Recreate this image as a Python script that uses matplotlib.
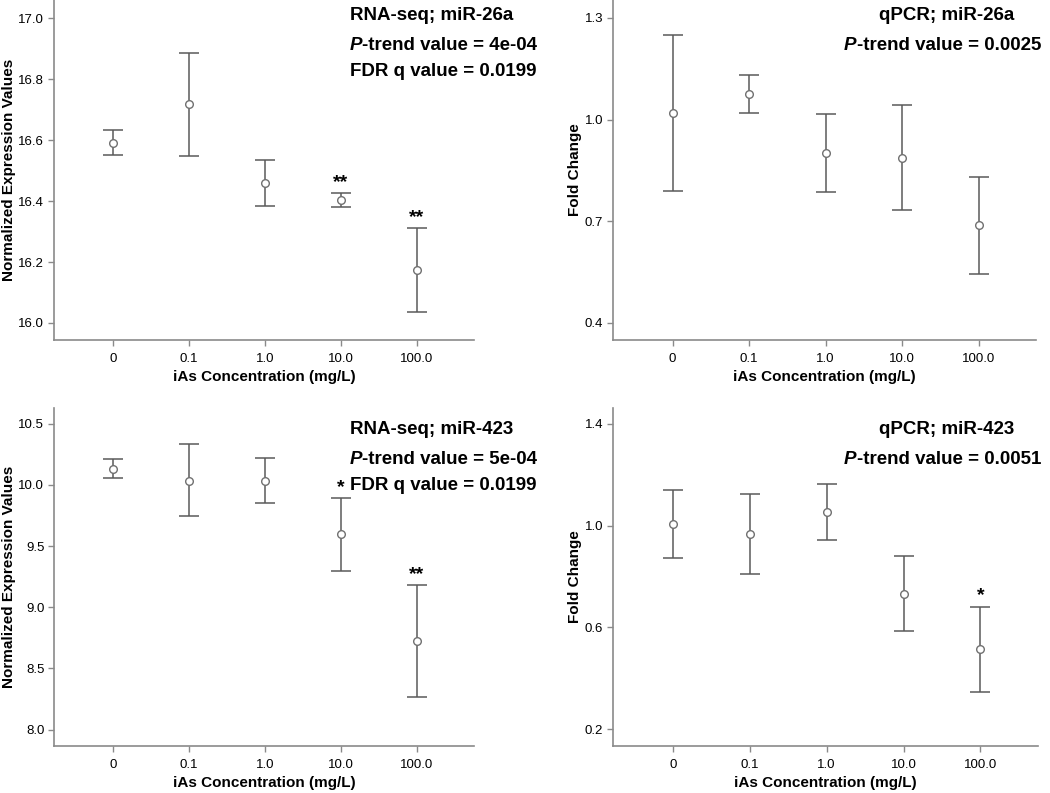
import numpy as np
import matplotlib.pyplot as plt

plt.rcParams['font.family'] = ['Liberation Sans', 'DejaVu Sans']

# x categories (iAs concentration, mg/L)
doses = ['0', '0.1', '1.0', '10.0', '100.0']

# RNA-seq miR-26a
rna26_mean = [16.591, 16.717, 16.459, 16.403, 16.173]
rna26_hi = [16.634, 16.887, 16.534, 16.427, 16.310]
rna26_lo = [16.550, 16.548, 16.385, 16.381, 16.035]
rna26_stars = ['', '', '', '**', '**']

# qPCR miR-26a
q26_mean = [1.020, 1.076, 0.901, 0.887, 0.688]
q26_hi = [1.251, 1.132, 1.015, 1.042, 0.830]
q26_lo = [0.789, 1.020, 0.786, 0.732, 0.545]
q26_stars = ['', '', '', '', '']

# RNA-seq miR-423
rna423_mean = [10.133, 10.035, 10.035, 9.597, 8.726]
rna423_hi = [10.215, 10.333, 10.223, 9.891, 9.182]
rna423_lo = [10.052, 9.744, 9.855, 9.299, 8.267]
rna423_stars = ['', '', '', '*', '**']

# qPCR miR-423
q423_mean = [1.005, 0.965, 1.052, 0.732, 0.514]
q423_hi = [1.139, 1.126, 1.163, 0.880, 0.682]
q423_lo = [0.871, 0.808, 0.943, 0.587, 0.347]
q423_stars = ['', '', '', '', '*']

W, H = 1050, 793
fig = plt.figure(figsize=(W / 100, H / 100), dpi=100)

LINE = '#5a5a5a'
SPINE = '#8a8a8a'
FS = 13.5


def rect(x0, y0, x1, y1):
    # pixel box (top-left origin) -> figure fraction rect
    return [x0 / W, 1 - y1 / H, (x1 - x0) / W, (y1 - y0) / H]


def panel(box, mean, hi, lo, stars, ylim, yticks, ylabel):
    ax = fig.add_axes(rect(*box))
    x = np.arange(len(doses))
    mean = np.array(mean)
    err = [mean - np.array(lo), np.array(hi) - mean]
    ax.errorbar(x, mean, yerr=err, fmt='none', ecolor=LINE, elinewidth=1.1,
                capsize=7, capthick=1.1)
    ax.plot(x, mean, 'o', ms=5.5, mfc='white', mec='#707070', mew=1.0)
    for xi, h, s in zip(x, hi, stars):
        if s:
            ax.annotate(s, xy=(xi, h), xytext=(0, 1.5), textcoords='offset points',
                        ha='center', va='bottom', fontsize=14, fontweight='bold')
    ax.set_xlim(-0.78, 4.75)
    ax.set_ylim(*ylim)
    ax.set_xticks(x)
    ax.set_xticklabels(doses)
    ax.set_yticks(yticks)
    ax.set_yticklabels(['%.1f' % t for t in yticks])
    for side in ['top', 'right']:
        ax.spines[side].set_visible(False)
    for side in ['left', 'bottom']:
        ax.spines[side].set_color(SPINE)
        ax.spines[side].set_linewidth(1.2)
    ax.tick_params(axis='both', direction='out', length=4, width=1,
                   color=SPINE, labelsize=9.5, pad=3)
    ax.tick_params(axis='x', pad=5)
    ax.set_xlabel('iAs Concentration (mg/L)', fontsize=11, fontweight='bold', labelpad=4)
    ax.set_ylabel(ylabel, fontsize=11, fontweight='bold', labelpad=2)
    return ax


def ptrend(ax, xy, value, ha='left'):
    # italic bold "P" followed by the rest of the label
    if ha == 'left':
        t = ax.text(xy[0], xy[1], 'P', transform=fig.transFigure, fontsize=FS,
                    fontweight='bold', fontstyle='italic', ha='left', va='center')
        ax.annotate('-trend value = ' + value, xy=(1, 0), xycoords=t,
                    ha='left', va='bottom', fontsize=FS, fontweight='bold')
    else:
        t = ax.text(xy[0], xy[1], '-trend value = ' + value, transform=fig.transFigure,
                    fontsize=FS, fontweight='bold', ha='right', va='center')
        ax.annotate('P', xy=(0, 0), xycoords=t, ha='right', va='bottom',
                    fontsize=FS, fontweight='bold', fontstyle='italic')


def ftext(ax, x, y, s, ha='left'):
    ax.text(x / W, 1 - y / H, s, transform=fig.transFigure, fontsize=FS,
            fontweight='bold', ha=ha, va='center')


ax1 = panel((54, 0, 474, 340), rna26_mean, rna26_hi, rna26_lo, rna26_stars,
            (15.944, 17.06), [16.0, 16.2, 16.4, 16.6, 16.8, 17.0],
            'Normalized Expression Values')
ftext(ax1, 350, 15, 'RNA-seq; miR-26a')
ptrend(ax1, (350 / W, 1 - 45 / H), '4e-04')
ftext(ax1, 350, 71, 'FDR q value = 0.0199')

ax2 = panel((613, 0, 1036, 340), q26_mean, q26_hi, q26_lo, q26_stars,
            (0.349, 1.353), [0.4, 0.7, 1.0, 1.3], 'Fold Change')
ftext(ax2, 947, 15, 'qPCR; miR-26a', ha='center')
ptrend(ax2, (1041 / W, 1 - 45 / H), '0.0025', ha='right')

ax3 = panel((54, 408, 474, 746), rna423_mean, rna423_hi, rna423_lo, rna423_stars,
            (7.866, 10.628), [8.0, 8.5, 9.0, 9.5, 10.0, 10.5],
            'Normalized Expression Values')
ftext(ax3, 350, 429, 'RNA-seq; miR-423')
ptrend(ax3, (350 / W, 1 - 459 / H), '5e-04')
ftext(ax3, 350, 485, 'FDR q value = 0.0199')

ax4 = panel((613, 408, 1038, 746), q423_mean, q423_hi, q423_lo, q423_stars,
            (0.134, 1.462), [0.2, 0.6, 1.0, 1.4], 'Fold Change')
ftext(ax4, 947, 429, 'qPCR; miR-423', ha='center')
ptrend(ax4, (1041 / W, 1 - 459 / H), '0.0051', ha='right')

fig.savefig('out.png', dpi=100)
